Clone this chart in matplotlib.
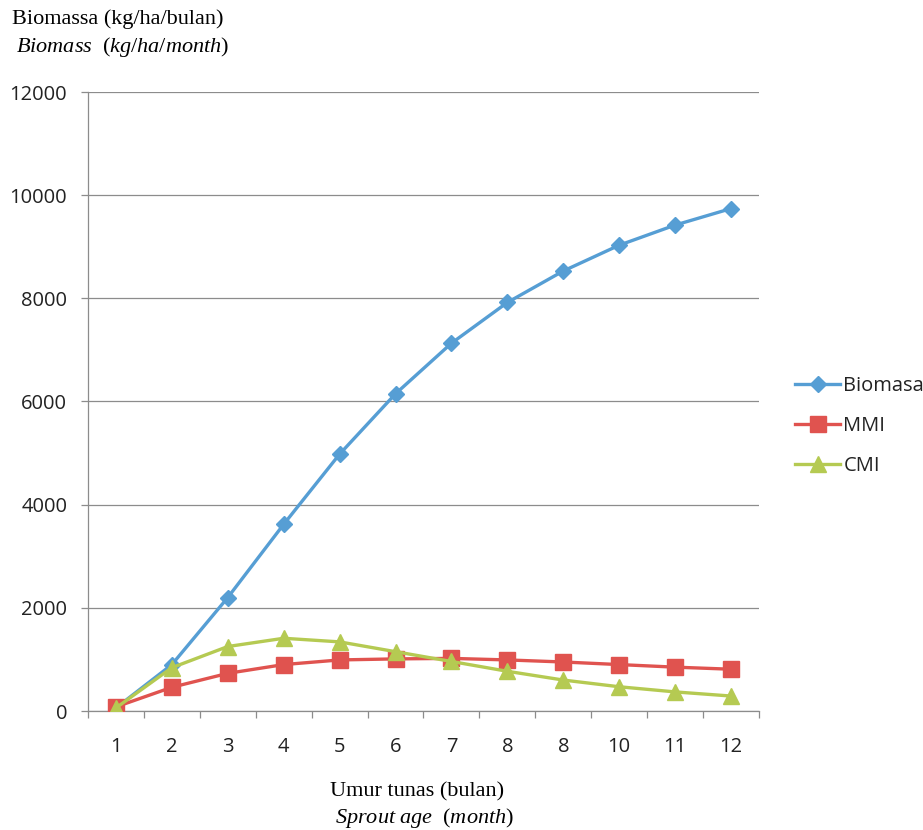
import matplotlib
matplotlib.use("Agg")
import matplotlib.pyplot as plt
import numpy as np

categories = ["1", "2", "3", "4", "5", "6", "7", "8", "8", "10", "11", "12"]
biomasa = [60, 900, 2200, 3620, 4980, 6150, 7130, 7920, 8530, 9030, 9420, 9740]
mmi = [80, 460, 730, 900, 990, 1010, 1020, 990, 950, 900, 850, 810]
cmi = [60, 840, 1250, 1410, 1340, 1150, 960, 770, 600, 470, 370, 290]
yticks = [0, 2000, 4000, 6000, 8000, 10000, 12000]

plt.rcParams['mathtext.fontset'] = 'custom'
plt.rcParams['mathtext.rm'] = 'Liberation Serif'
plt.rcParams['mathtext.it'] = 'Liberation Serif:italic'

W, H = 923, 830
fig = plt.figure(figsize=(W / 100, H / 100), dpi=100)
ax = fig.add_axes([88 / W, 1 - 711 / H, (759 - 88) / W, (711 - 92) / H])

x = np.arange(len(categories))
c_blue = "#569ED4"
c_red = "#E0534F"
c_green = "#B5CA52"
ax.plot(x, biomasa, color=c_blue, lw=2.4, marker="D", ms=8, label="Biomasa", zorder=3)
ax.plot(x, mmi, color=c_red, lw=2.4, marker="s", ms=11, label="MMI", zorder=4)
ax.plot(x, cmi, color=c_green, lw=2.4, marker="^", ms=12, label="CMI", zorder=5)

gc = "#8C8C8C"
ax.set_ylim(0, 12000)
ax.set_xlim(-0.5, len(categories) - 0.5)
ax.set_yticks(yticks)
ax.set_yticklabels([str(v) for v in yticks])
ax.yaxis.grid(True, color=gc, lw=0.9)
ax.set_axisbelow(True)
for s in ["top", "right"]:
    ax.spines[s].set_visible(False)
for s in ["left", "bottom"]:
    ax.spines[s].set_color(gc)
    ax.spines[s].set_linewidth(0.9)

ax.set_xticks(x)
ax.set_xticklabels(categories)
ax.set_xticks(np.arange(-0.5, len(categories)), minor=True)
ax.tick_params(axis="x", which="major", length=0, pad=19, labelsize=14.5, labelcolor="#222222")
ax.tick_params(axis="x", which="minor", length=5, color=gc, width=0.9)
ax.tick_params(axis="y", length=5, color=gc, width=0.9, pad=10, labelsize=14.5, labelcolor="#222222")
for lbl in ax.get_xticklabels() + ax.get_yticklabels():
    lbl.set_fontfamily("Open Sans")

leg = ax.legend(loc="center left", bbox_to_anchor=(795 / W, 1 - 426 / H),
                bbox_transform=fig.transFigure, frameon=False,
                prop={"family": "Open Sans", "size": 14.5}, handlelength=2.25,
                handletextpad=0.15, labelspacing=1.0, borderpad=0, borderaxespad=0)
for t in leg.get_texts():
    t.set_color("#222222")

fig.text(12 / W, 1 - 19 / H, "Biomassa (kg/ha/bulan)", family="Liberation Serif",
         fontsize=16, va="center", ha="left")
fig.text(16 / W, 1 - 47 / H, r"$\mathit{Biomass}\ \ \mathrm{(}\mathit{kg/ha/month}\mathrm{)}$",
         fontsize=16, va="center", ha="left")
fig.text(330 / W, 1 - 792 / H, "Umur tunas (bulan)", family="Liberation Serif",
         fontsize=16, va="center", ha="left")
fig.text(335 / W, 1 - 818 / H, r"$\mathit{Sprout\ age}\ \ \mathrm{(}\mathit{month}\mathrm{)}$",
         fontsize=16, va="center", ha="left")

fig.savefig("out.png", dpi=100)
